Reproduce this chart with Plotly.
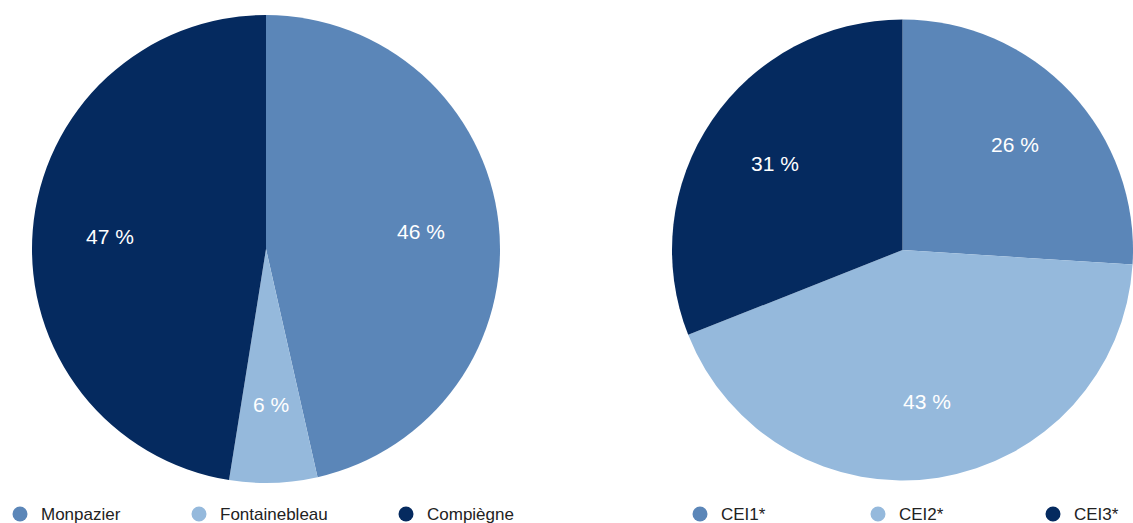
import math
import plotly.graph_objects as go

W, H = 1133, 523

left_labels = ["Monpazier", "Fontainebleau", "Compiègne"]
left_values = [46, 6, 47]
right_labels = ["CEI1*", "CEI2*", "CEI3*"]
right_values = [26, 43, 31]
colors = ["#5b86b8", "#95b9dc", "#052a5f"]

# pie boxes in pixels: (x0, x1, y0_top, y1_bottom)
left_box = (32, 500, 15, 483)
right_box = (672, 1133, 18, 482)

# legend layout (pixel positions of markers)
left_legend_x = [20, 199, 406]
right_legend_x = [700, 878, 1053]
legend_y = 514

FONT = "Liberation Sans, Arial, Helvetica"


def px_x(x):
    return x / W


def px_y(y):
    return 1 - y / H


fig = go.Figure()
annotations = []
shapes = []

for labels, values, box in ((left_labels, left_values, left_box),
                            (right_labels, right_values, right_box)):
    x0, x1, yt, yb = box
    fig.add_trace(go.Pie(
        labels=labels, values=values,
        marker=dict(colors=colors, line=dict(width=0)),
        sort=False, direction="clockwise", rotation=0,
        textinfo="none",
        domain=dict(x=[px_x(x0), px_x(x1)], y=[px_y(yb), px_y(yt)]),
        showlegend=False, hoverinfo="label+percent",
    ))
    # slice labels at 2/3 of radius along each slice bisector
    r = min(x1 - x0, yb - yt) / 2
    cx, cy = (x0 + x1) / 2, (yt + yb) / 2
    total = sum(values)
    cum = 0
    for v in values:
        mid = (cum + v / 2) / total * 2 * math.pi
        cum += v
        tx = cx + 0.667 * r * math.sin(mid)
        ty = cy - 0.667 * r * math.cos(mid)
        annotations.append(dict(text=f"{v} %", xref="paper", yref="paper",
                                x=px_x(tx), y=px_y(ty), xanchor="center", yanchor="middle",
                                showarrow=False,
                                font=dict(family=FONT, size=21, color="white")))

for labels, xs in ((left_labels, left_legend_x), (right_labels, right_legend_x)):
    for lab, x, c in zip(labels, xs, colors):
        shapes.append(dict(type="circle", xref="paper", yref="paper",
                           x0=px_x(x - 7.5), x1=px_x(x + 7.5),
                           y0=px_y(legend_y + 7.5), y1=px_y(legend_y - 7.5),
                           fillcolor=c, line=dict(width=0)))
        annotations.append(dict(text=lab, xref="paper", yref="paper",
                                x=px_x(x + 19), y=px_y(legend_y),
                                xanchor="left", yanchor="middle", showarrow=False,
                                font=dict(family=FONT, size=17, color="#222222")))

fig.update_layout(
    width=W, height=H,
    margin=dict(l=0, r=0, t=0, b=0),
    paper_bgcolor="white", plot_bgcolor="white",
    shapes=shapes, annotations=annotations,
)

fig.write_html(
    "out.html",
    config={"displayModeBar": False},
    post_script="document.body.style.margin='0';document.body.style.overflow='hidden';",
)
